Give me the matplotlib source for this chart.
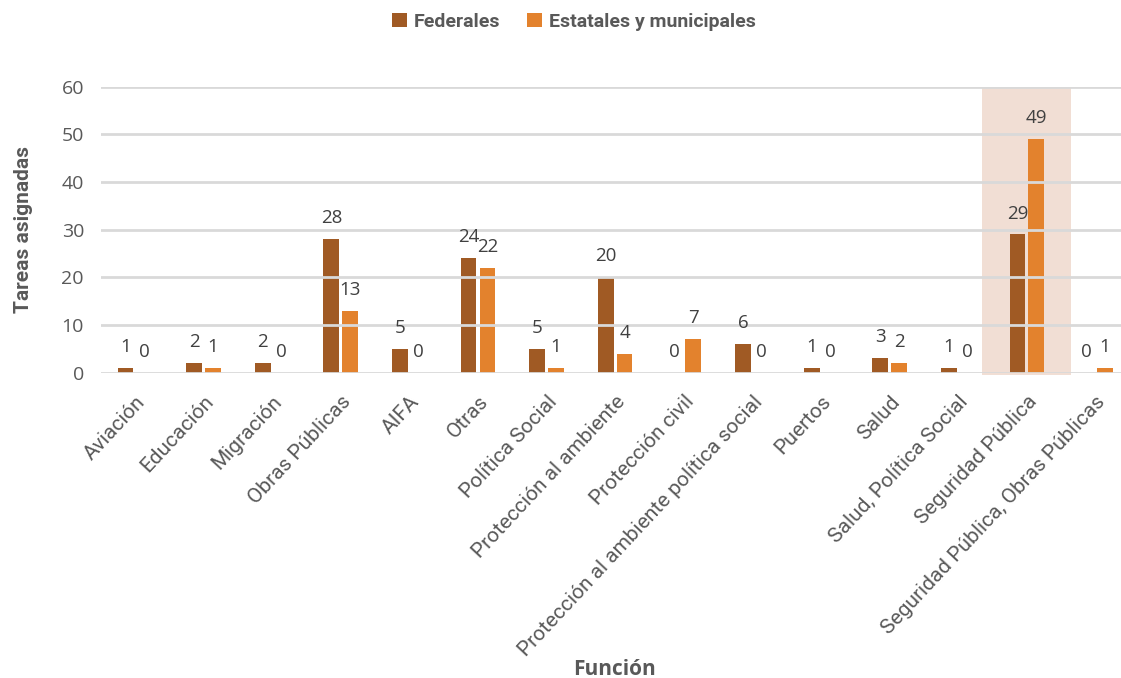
import matplotlib.pyplot as plt
import numpy as np
from matplotlib.patches import Rectangle

# Tareas asignadas por función
funciones = [
    "Aviación", "Educación", "Migración", "Obras Públicas", "AIFA", "Otras",
    "Política Social", "Protección al ambiente", "Protección civil",
    "Protección al ambiente política social", "Puertos", "Salud",
    "Salud, Política Social", "Seguridad Pública",
    "Seguridad Pública, Obras Públicas",
]
federales = [1, 2, 2, 28, 5, 24, 5, 20, 0, 6, 1, 3, 1, 29, 0]
estatales = [0, 1, 0, 13, 0, 22, 1, 4, 7, 0, 0, 2, 0, 49, 1]
y_ticks = [0, 10, 20, 30, 40, 50, 60]
destacada = "Seguridad Pública"

c_fed = "#A05A24"
c_est = "#E3822D"
gris = "#595959"

fig = plt.figure(figsize=(11.21, 6.78), dpi=100)
ax = fig.add_axes([0.0898, 0.4503, 0.918, 0.4218])

x = np.arange(len(funciones))
ancho = 0.23
desp = 0.137

b1 = ax.bar(x - desp, federales, ancho, color=c_fed, label="Federales", zorder=2)
b2 = ax.bar(x + desp, estatales, ancho, color=c_est,
            label="Estatales y municipales", zorder=2)

for barras in (b1, b2):
    for b in barras:
        ax.annotate(f"{int(b.get_height())}",
                    (b.get_x() + b.get_width() / 2, b.get_height()),
                    xytext=(0, 11.5), textcoords="offset points",
                    ha="center", va="baseline", fontsize=13.5,
                    color="#404040", family="Open Sans")

# franja resaltada
i = funciones.index(destacada)
ax.add_patch(Rectangle((i - 0.65, -0.5), 1.3, 60.5, facecolor="#E9C9B8",
                       alpha=0.6, edgecolor="none", zorder=0, clip_on=False))

ax.set_xlim(-0.5, len(funciones) - 0.5)
ax.set_ylim(0, 60)
ax.set_yticks(y_ticks)
ax.yaxis.grid(True, color="#D9D9D9", linewidth=2, zorder=1)
ax.set_axisbelow(False)
for s in ax.spines.values():
    s.set_visible(False)
ax.tick_params(length=0)
ax.tick_params(axis="y", labelsize=14, labelcolor=gris, pad=12)
for t in ax.get_yticklabels():
    t.set_family("Open Sans")

ax.set_xticks(x)
ax.set_xticklabels(funciones, rotation=47, ha="right", rotation_mode="anchor",
                   fontsize=15, color=gris, family="Roboto")
ax.tick_params(axis="x", pad=14)

ax.set_ylabel("Tareas asignadas", fontsize=15, fontweight="bold", color=gris,
              family="Roboto")
ax.yaxis.set_label_coords(-0.066, 0.5)
fig.text(0.5486, 0.0044, "Función", fontsize=15, fontweight="bold", color=gris,
         family="Open Sans", ha="center", va="baseline")

fig.legend(handles=[b1, b2], loc="center", bbox_to_anchor=(0.512, 0.968),
           ncol=2, frameon=False, handlelength=0.75, handleheight=0.75,
           handletextpad=0.35, columnspacing=1.4,
           prop={"family": "Roboto", "weight": "bold", "size": 14},
           labelcolor=gris)

fig.savefig("out.png", dpi=100)
